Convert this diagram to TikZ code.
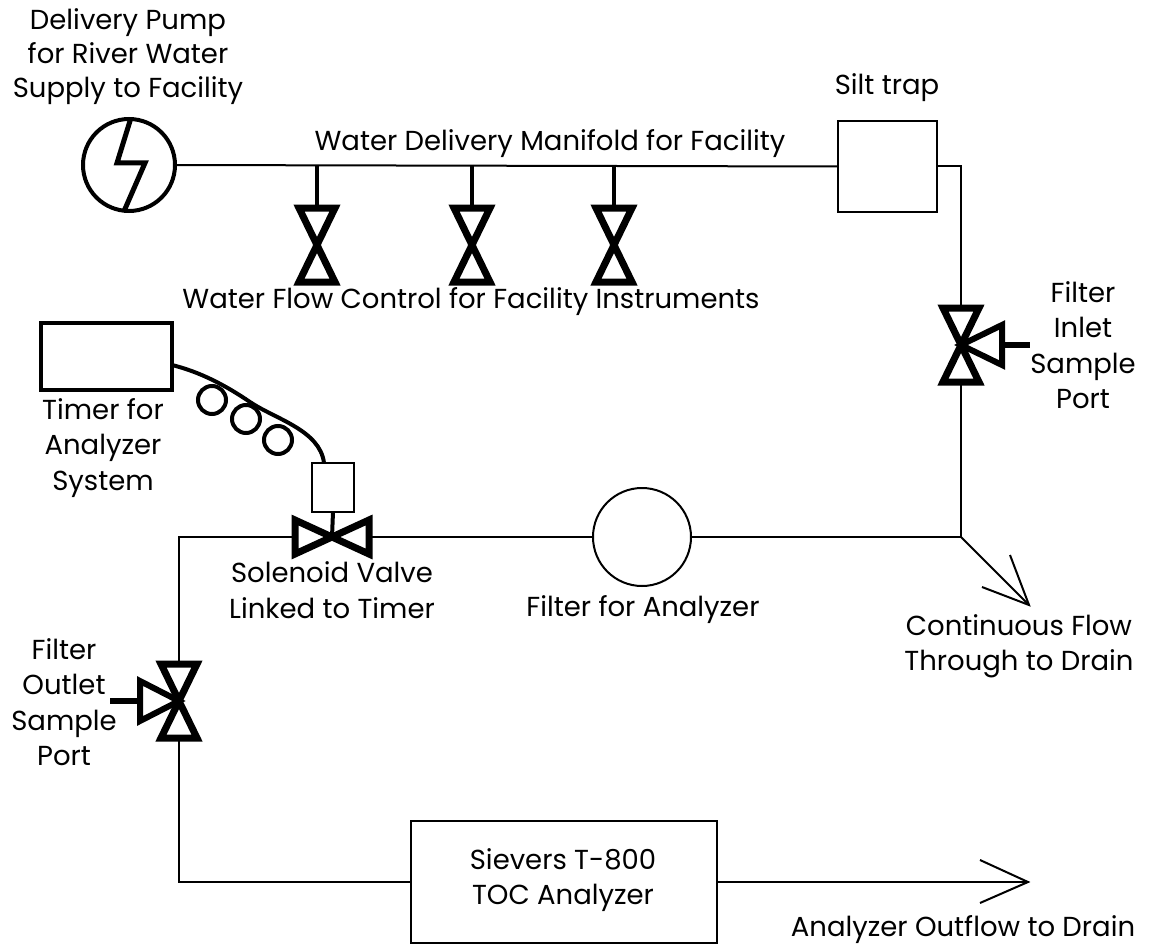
\documentclass[tikz,border=0pt]{standalone}
\usepackage{fontspec}
\setmainfont{Poppins}
\usetikzlibrary{calc}
\newcommand{\vvalve}[3]{%
  \node[portnode,minimum width=36pt,minimum height=74pt] (#1) at (#2,#3) {};
  \draw[valveline] (#1.north west) -- (#1.north east) -- (#1.south west) -- (#1.south east) -- cycle;
}
\newcommand{\hvalve}[3]{%
  \node[portnode,minimum width=74pt,minimum height=34pt] (#1) at (#2,#3) {};
  \draw[valveline] (#1.north west) -- (#1.south east) -- (#1.north east) -- (#1.south west) -- cycle;
}
\tikzset{
  x=1pt,y=-1pt,
  portnode/.style={inner sep=0pt,outer sep=0pt,draw=none},
  valveline/.style={line width=7pt,line join=miter,black},
  sideline/.style={line width=6pt,line join=miter,black},
  pipe/.style={line width=2pt,black},
  stubline/.style={line width=4pt,black},
  boxnode/.style={draw=black,line width=2pt,inner sep=0pt,outer sep=0pt,fill=white},
  coilnode/.style={draw=black,circle,line width=4pt,minimum size=28pt,inner sep=0pt,outer sep=0pt},
  lbl/.style={font=\fontsize{27.5}{35.5}\selectfont,align=center,inner sep=0pt,text=black}
}
\begin{document}
\begin{tikzpicture}
\useasboundingbox (0,0) rectangle (1149,947);
\fill[white] (0,0) rectangle (1149,947);
% equipment
\node[boxnode,circle,line width=4pt,minimum size=92pt] (pump) at (129,165) {};
\draw[line width=5pt,line join=miter] (pump.88) -- (117,163) -- (145,163) -- (pump.264);
\node[boxnode,minimum width=99pt,minimum height=91pt] (trap) at (887.5,166.5) {};
\node[boxnode,line width=4pt,minimum width=131pt,minimum height=67pt] (timer) at (106,356) {};
\node[boxnode,minimum width=42pt,minimum height=49pt] (sol) at (333,487.5) {};
\node[boxnode,circle,minimum size=98pt] (filter) at (642,537) {};
\node[boxnode,minimum width=306pt,minimum height=122pt] (toc) at (564,882) {};
% valves
\vvalve{va}{317}{245}
\vvalve{vb}{472}{245}
\vvalve{vc}{614}{245}
\vvalve{vin}{961}{345}
\vvalve{vout}{179}{701}
\hvalve{vsol}{332}{537}
% junctions and free ends
\coordinate (ja) at (va.north |- pump.east);
\coordinate (jb) at (vb.north |- pump.east);
\coordinate (jc) at (vc.north |- pump.east);
\coordinate (corner) at (vin.south |- filter.east);
\coordinate (cornerl) at (vout.north |- vsol.west);
\coordinate (cornerb) at (vout.south |- toc.west);
\coordinate (draina) at (1029,605);
\coordinate (drainb) at (1028,882);
\coordinate (inport) at (1030,345);
\coordinate (outport) at (110,701);
\coordinate (linka) at (172,365);
\coordinate (linkm) at (250,402);
\coordinate (linkb) at (324,463);
% pipes
\draw[pipe] (pump.east) -- (trap.west);
\draw[stubline] (ja) -- (va.north);
\draw[stubline] (jb) -- (vb.north);
\draw[stubline] (jc) -- (vc.north);
\draw[pipe] (trap.east) -- (trap.east -| vin.north) -- (vin.north);
\draw[pipe] (vin.south) -- (corner) -- (filter.east);
\draw[pipe] (filter.west) -- (vsol.east);
\draw[pipe] (vsol.west) -- (cornerl) -- (vout.north);
\draw[pipe] (vout.south) -- (cornerb) -- (toc.west);
\draw[pipe] (toc.east) -- (drainb);
\draw[pipe] (corner) -- (draina);
\draw[pipe,line join=miter] (1010,555) -- (draina) -- (982,587);
\draw[pipe,line join=miter] (980,860) -- (drainb) -- (980,903);
% sample ports
\draw[sideline] (vin.center) -- (1002,325) -- (1002,365) -- cycle;
\draw[stubline,line width=6pt] (1002,345) -- (inport);
\draw[sideline] (vout.center) -- (140,681) -- (140,721) -- cycle;
\draw[stubline,line width=6pt] (140,701) -- (outport);
% solenoid and timer link
\draw[stubline] (vsol.center) -- (sol.south);
\draw[line width=4pt] (linka) .. controls (200,372) and (225,385) .. (linkm) .. controls (275,419) and (320,430) .. (linkb);
\node[coilnode] (coila) at (212,400) {};
\node[coilnode] (coilb) at (246,419) {};
\node[coilnode] (coilc) at (278,440) {};
% labels
\node[lbl,font=\fontsize{27.5}{34}\selectfont] (tpump) at (128,57) {Delivery Pump\\for River Water\\Supply to Facility};
\node[lbl] (tman) at (550,144) {Water Delivery Manifold for Facility};
\node[lbl] (ttrap) at (887,88) {Silt trap};
\node[lbl] (tflow) at (471,302) {Water Flow Control for Facility Instruments};
\node[lbl] (tin) at (1083,345) {Filter\\Inlet\\Sample\\Port};
\node[lbl] (ttimer) at (103,448) {Timer for\\Analyzer\\System};
\node[lbl] (tsol) at (332,590) {Solenoid Valve\\Linked to Timer};
\node[lbl] (tfilt) at (643,610) {Filter for Analyzer};
\node[lbl] (tcont) at (1019,646) {Continuous Flow\\Through to Drain};
\node[lbl] (tout) at (64,702) {Filter\\Outlet\\Sample\\Port};
\node[lbl] (ttoc) at (563,880) {Sievers T-800\\TOC Analyzer};
\node[lbl] (tdrain) at (963,930) {Analyzer Outflow to Drain};
\end{tikzpicture}
\end{document}
